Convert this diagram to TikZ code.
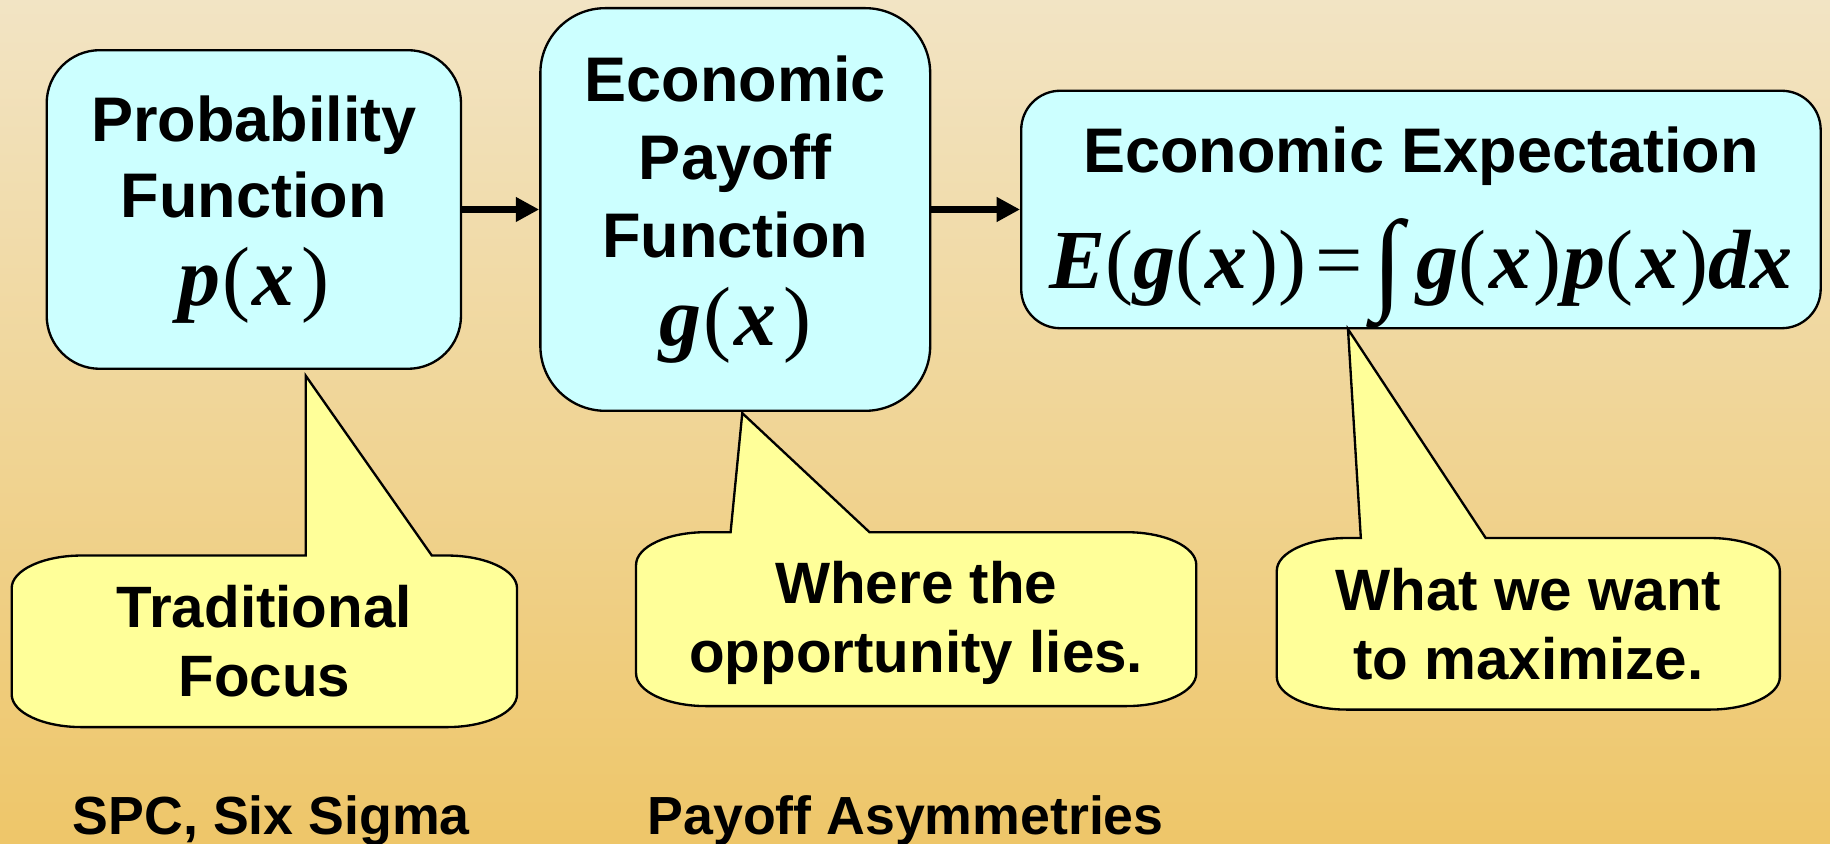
\documentclass[tikz,border=0pt]{standalone}
\usepackage{fontspec}
\setmainfont{Liberation Sans}
\newfontfamily\timesfont{Liberation Serif}
\usepackage{tikz}
\usetikzlibrary{arrows.meta, positioning, calc}

\definecolor{bgtop}{RGB}{242,228,196}
\definecolor{bgbottom}{RGB}{238,198,105}
\definecolor{boxcyan}{RGB}{204,255,255}
\definecolor{noteyellow}{RGB}{255,255,153}

\newcommand{\mathline}[1]{{\timesfont\mdseries\fontsize{36}{40}\selectfont #1}}
\newcommand{\fv}[1]{{\bfseries\itshape #1}}

\begin{document}
\begin{tikzpicture}[x=0.5pt, y=0.5pt,
        func/.style={draw, line width=1pt, fill=boxcyan, align=center, inner sep=0pt, font=\fontsize{27}{32.5}\selectfont\bfseries},
        bubble/.style={draw, line width=1pt, fill=noteyellow},
        note/.style={align=center, font=\fontsize{25}{29.5}\selectfont\bfseries},
        tag/.style={anchor=base, font=\fontsize{23}{28}\selectfont\bfseries},
        flow/.style={line width=3pt, -{Triangle[length=10pt, width=10pt]}}
    ]

        \useasboundingbox (0,0) rectangle (1568,723);
        \fill[top color=bgtop, bottom color=bgbottom] (0,0) rectangle (1568,723);

        
        \node[func, minimum width=177.5pt, minimum height=136.5pt, rounded corners=22.75pt] (prob) at (217.5,543.5)
            {Probability\\Function\\[5pt]\mathline{\fv{p}\kern1pt(\kern1pt\fv{x}\kern3pt)}};
        \node[func, minimum width=167pt, minimum height=172.5pt, rounded corners=27.8pt] (payoff) at (630,543.5)
            {Economic\\[1pt]Payoff\\[1pt]Function\\[5pt]\mathline{\fv{g}\kern1pt(\kern1pt\fv{x}\kern3pt)}};
        \node[func, minimum width=342.5pt, minimum height=100.5pt, rounded corners=16.75pt] (expect) at (1217.5,543.5)
            {\rule{0pt}{35pt}Economic Expectation\\[13pt]\mathline{\fv{E}(\fv{g}(\kern1pt\fv{x}\kern1pt))\kern4pt=\kern4pt\raisebox{-4.3pt}{\fontsize{48}{48}\selectfont ∫}\kern6pt\fv{g}(\kern1pt\fv{x}\kern1pt)\kern1pt\fv{p}(\kern1pt\fv{x}\kern1pt)\fv{dx}}};

        
        \draw[flow] (prob) -- (payoff);
        \draw[flow] (payoff) -- (expect);

        
        \filldraw[bubble] (262,247) -- (262,401) -- (370,247) -- (383,247)
            arc[start angle=90, end angle=0, x radius=60, y radius=28] -- (443,128)
            arc[start angle=0, end angle=-90, x radius=60, y radius=28] -- (70,100)
            arc[start angle=270, end angle=180, x radius=60, y radius=28] -- (10,219)
            arc[start angle=180, end angle=90, x radius=60, y radius=28] -- cycle;
        \filldraw[bubble] (626,267) -- (636,369) -- (745,267) -- (965,267)
            arc[start angle=90, end angle=0, x radius=60, y radius=28] -- (1025,146)
            arc[start angle=0, end angle=-90, x radius=60, y radius=28] -- (605,118)
            arc[start angle=270, end angle=180, x radius=60, y radius=28] -- (545,239)
            arc[start angle=180, end angle=90, x radius=60, y radius=28] -- cycle;
        \filldraw[bubble] (1166,262) -- (1155,441) -- (1273,262) -- (1465,262)
            arc[start angle=90, end angle=0, x radius=60, y radius=28] -- (1525,143)
            arc[start angle=0, end angle=-90, x radius=60, y radius=28] -- (1154,115)
            arc[start angle=270, end angle=180, x radius=60, y radius=28] -- (1094,234)
            arc[start angle=180, end angle=90, x radius=60, y radius=28] -- cycle;

        \node[note] (focus) at (226.5,173.5) {Traditional\\Focus};
        \node[note] (opportunity) at (785,189.5) {Where the\\opportunity lies.};
        \node[note] (maximize) at (1309.5,188.5) {What we want\\to maximize.};

        
        \node[tag] (spc) at (232.5,8) {SPC, Six Sigma};
        \node[tag] (asym) at (776,8) {Payoff Asymmetries};

    \end{tikzpicture}
\end{document}
